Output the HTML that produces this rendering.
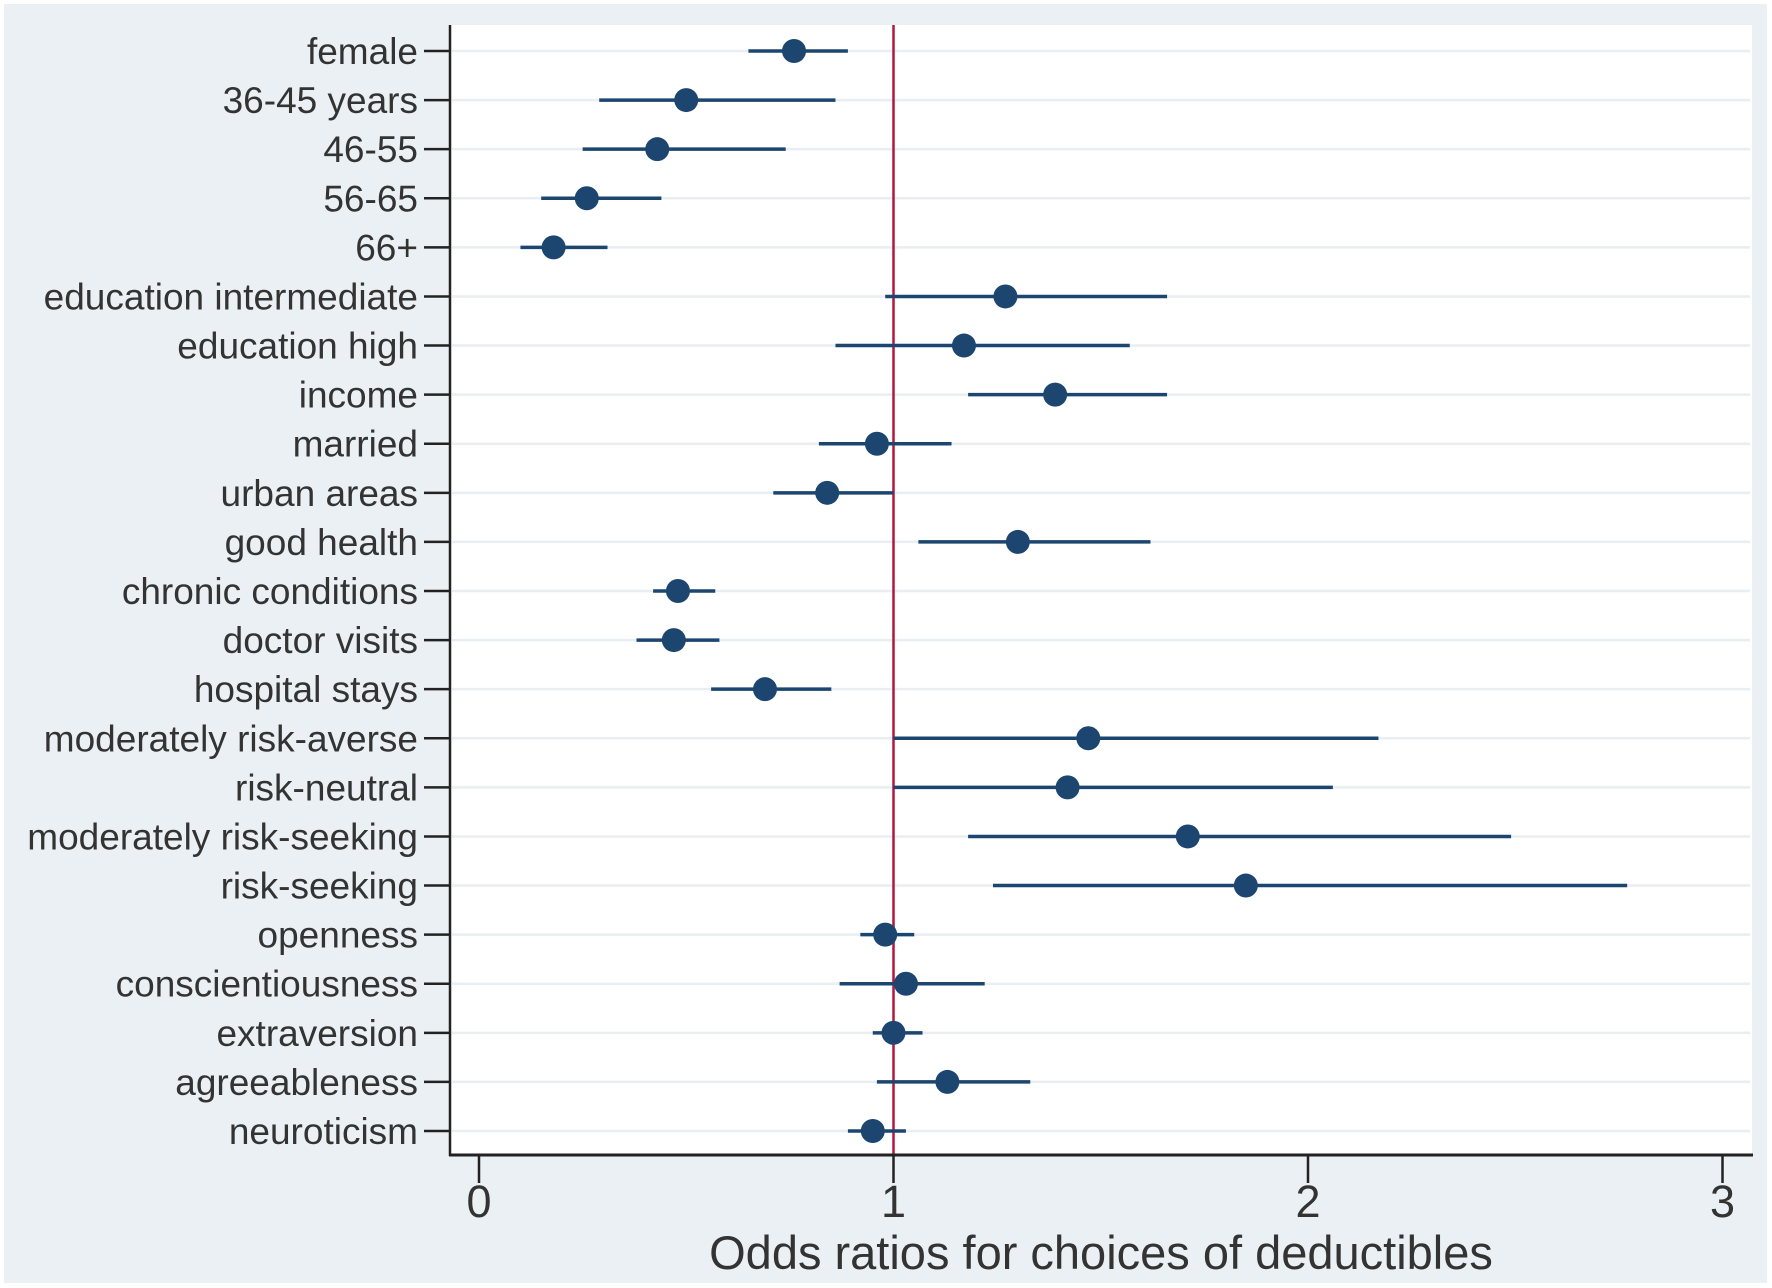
<!DOCTYPE html>
<html><head><meta charset="utf-8"><style>
html,body{margin:0;padding:0;background:#fff;}
svg{display:block;font-family:"Liberation Sans",Arial,sans-serif;}
</style></head><body>
<svg id="chart" width="1772" height="1288" viewBox="0 0 1772 1288">
<rect x="4" y="4" width="1763" height="1279" fill="#eaf0f3"/>
<rect x="450" y="25" width="1302" height="1130" fill="#ffffff"/>
<g id="grid"></g>
<g id="marks"></g>
<g id="axes"></g>
</svg>
<script>
const categories = ["female","36-45 years","46-55","56-65","66+","education intermediate","education high","income","married","urban areas","good health","chronic conditions","doctor visits","hospital stays","moderately risk-averse","risk-neutral","moderately risk-seeking","risk-seeking","openness","conscientiousness","extraversion","agreeableness","neuroticism"];
const estimates = [0.76,0.50,0.43,0.26,0.18,1.27,1.17,1.39,0.96,0.84,1.30,0.48,0.47,0.69,1.47,1.42,1.71,1.85,0.98,1.03,1.00,1.13,0.95];
const lowerCI = [0.65,0.29,0.25,0.15,0.10,0.98,0.86,1.18,0.82,0.71,1.06,0.42,0.38,0.56,1.00,1.00,1.18,1.24,0.92,0.87,0.95,0.96,0.89];
const upperCI = [0.89,0.86,0.74,0.44,0.31,1.66,1.57,1.66,1.14,1.00,1.62,0.57,0.58,0.85,2.17,2.06,2.49,2.77,1.05,1.22,1.07,1.33,1.03];
const xTicks = [0,1,2,3];
const refValue = 1;

const NS="http://www.w3.org/2000/svg";
const x = v => 479 + v*414.5;
const y = i => 51 + i*(1131-51)/(categories.length-1);
function mk(tag, attrs, parent){const e=document.createElementNS(NS,tag);for(const k in attrs)e.setAttribute(k,attrs[k]);document.getElementById(parent).appendChild(e);return e;}

categories.forEach((c,i)=>{
  const g=mk('line',{x1:452,x2:1750,y1:y(i),y2:y(i),stroke:'#e8eef1','stroke-width':2.5},'grid');
  
  
  const t=mk('line',{x1:424,x2:450,y1:y(i),y2:y(i),stroke:'#222','stroke-width':2.5},'axes');
  
  
  const l=mk('text',{x:418,y:y(i)+13,'text-anchor':'end','font-size':37,fill:'#333'},'axes');
  l.textContent=c;
  
  
});

const ref=mk('line',{x1:x(refValue),x2:x(refValue),y1:25,y2:1155,stroke:'#b5163f','stroke-width':2.5},'marks');



categories.forEach((c,i)=>{
  const ci=mk('line',{x1:x(lowerCI[i]),x2:x(upperCI[i]),y1:y(i),y2:y(i),stroke:'#1c4670','stroke-width':3.5},'marks');
  
  
  const p=mk('circle',{cx:x(estimates[i]),cy:y(i),r:12,fill:'#1c4670'},'marks');
  
  
});

const ya=mk('line',{x1:450,x2:450,y1:25,y2:1156,stroke:'#222','stroke-width':2.5},'axes');


const xa=mk('line',{x1:449,x2:1753,y1:1155,y2:1155,stroke:'#222','stroke-width':3},'axes');


xTicks.forEach(v=>{
  const t=mk('line',{x1:x(v),x2:x(v),y1:1155,y2:1183,stroke:'#222','stroke-width':2.5},'axes');
  
  
  const l=mk('text',{x:x(v),y:1217,'text-anchor':'middle','font-size':45,fill:'#333'},'axes');
  l.textContent=String(v);
  
  
});
const xt=mk('text',{x:1101,y:1269,'text-anchor':'middle','font-size':47,fill:'#333'},'axes');
xt.textContent='Odds ratios for choices of deductibles';


</script>
</body></html>
